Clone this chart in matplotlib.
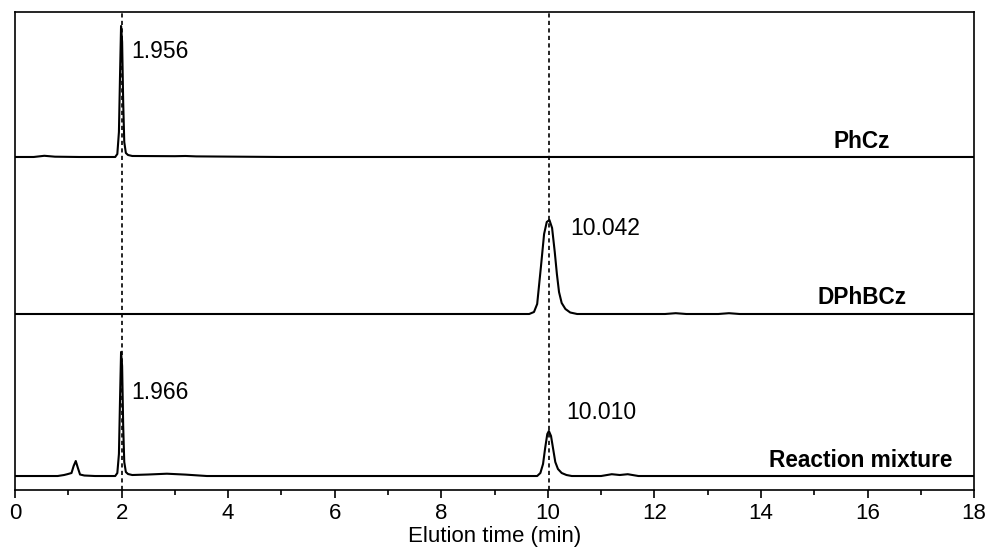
import matplotlib
matplotlib.use("Agg")
import matplotlib.pyplot as plt

plt.rcParams["font.family"] = ["Liberation Sans", "DejaVu Sans"]

# hand-read trace points (time in min, signal above baseline, a.u.)
PHCZ_T = [0.0, 0.35, 0.55, 0.75, 1.2, 1.88, 1.92, 1.95, 1.97, 1.99, 2.01, 2.03, 2.05, 2.08, 2.12, 2.2,
          3.0, 3.2, 3.4, 5.0, 18.0]
PHCZ_Y = [0, 0, 1.2, 0.3, 0, 0, 3, 25, 80, 131, 115, 55, 15, 4, 2, 1, 0.8, 1.0, 0.6, 0, 0]

DPHBCZ_T = [0.0, 9.65, 9.74, 9.80, 9.87, 9.93, 9.98, 10.03, 10.08, 10.13, 10.17, 10.21, 10.26, 10.33,
            10.42, 10.55, 12.2, 12.4, 12.6, 13.2, 13.4, 13.6, 18.0]
DPHBCZ_Y = [0, 0, 2, 10, 47, 80, 92, 94, 86, 62, 40, 22, 11, 5, 1.5, 0, 0, 0.8, 0, 0, 0.8, 0, 0]

MIX_T = [0.0, 0.8, 0.92, 0.98, 1.06, 1.1, 1.14, 1.18, 1.22, 1.3, 1.5, 1.88, 1.92, 1.95, 1.97, 1.99,
         2.01, 2.03, 2.05, 2.08, 2.12, 2.2, 2.5, 2.85, 3.2, 3.6, 9.8, 9.86, 9.91, 9.95, 9.99, 10.02,
         10.06, 10.10, 10.14, 10.19, 10.26, 10.35, 10.45, 11.0, 11.2, 11.35, 11.5, 11.7, 18.0]
MIX_Y = [0, 0, 1, 1.8, 3, 10, 15, 8, 1.5, 0.5, 0, 0, 3, 22, 75, 124, 110, 50, 14, 4, 2, 1, 1.5, 2.3,
         1.4, 0, 0, 3, 12, 28, 42, 45, 40, 27, 14, 7, 3, 1, 0, 0, 1.8, 1.0, 1.8, 0, 0]

TRACES = [PHCZ_T, DPHBCZ_T, MIX_T]
SIGNALS = [PHCZ_Y, DPHBCZ_Y, MIX_Y]
OFFSETS = [333, 176, 14]
NAMES = ["PhCz", "DPhBCz", "Reaction mixture"]
NAME_X = [16.42, 16.74, 17.6]
NAME_Y = [348, 192, 30]

PEAK_LABELS = ["1.956", "10.042", "1.966", "10.010"]
PEAK_LABEL_X = [2.18, 10.42, 2.19, 10.34]
PEAK_LABEL_Y = [438, 261, 98, 78]

GUIDES = [2.0, 10.03]

fig = plt.figure(figsize=(9.89, 5.52), dpi=100)
ax = fig.add_axes([0.0152, 0.1123, 0.9697, 0.866])

for t, y, off in zip(TRACES, SIGNALS, OFFSETS):
    ax.plot(t, [v + off for v in y], color="black", lw=1.5, solid_joinstyle="round")

for g in GUIDES:
    ax.axvline(g, color="black", lw=1.2, linestyle=(0, (2.5, 2)))

for name, nx, ny in zip(NAMES, NAME_X, NAME_Y):
    ax.text(nx, ny, name, ha="right", va="center", fontsize=16.3, fontweight="bold")

for lab, lx, ly in zip(PEAK_LABELS, PEAK_LABEL_X, PEAK_LABEL_Y):
    ax.text(lx, ly, lab, ha="left", va="center", fontsize=16.5)

ax.set_xlim(0, 18)
ax.set_ylim(0, 478)
ax.set_xticks(range(0, 19, 2))
ax.set_xticks(range(1, 18, 2), minor=True)
ax.set_yticks([])
ax.tick_params(axis="x", which="major", length=6, width=1.2, labelsize=16, pad=3)
ax.tick_params(axis="x", which="minor", length=3.5, width=1.2)
for s in ax.spines.values():
    s.set_linewidth(1.2)
ax.set_xlabel("Elution time (min)", fontsize=16, labelpad=2)

fig.savefig("out.png", dpi=100)
